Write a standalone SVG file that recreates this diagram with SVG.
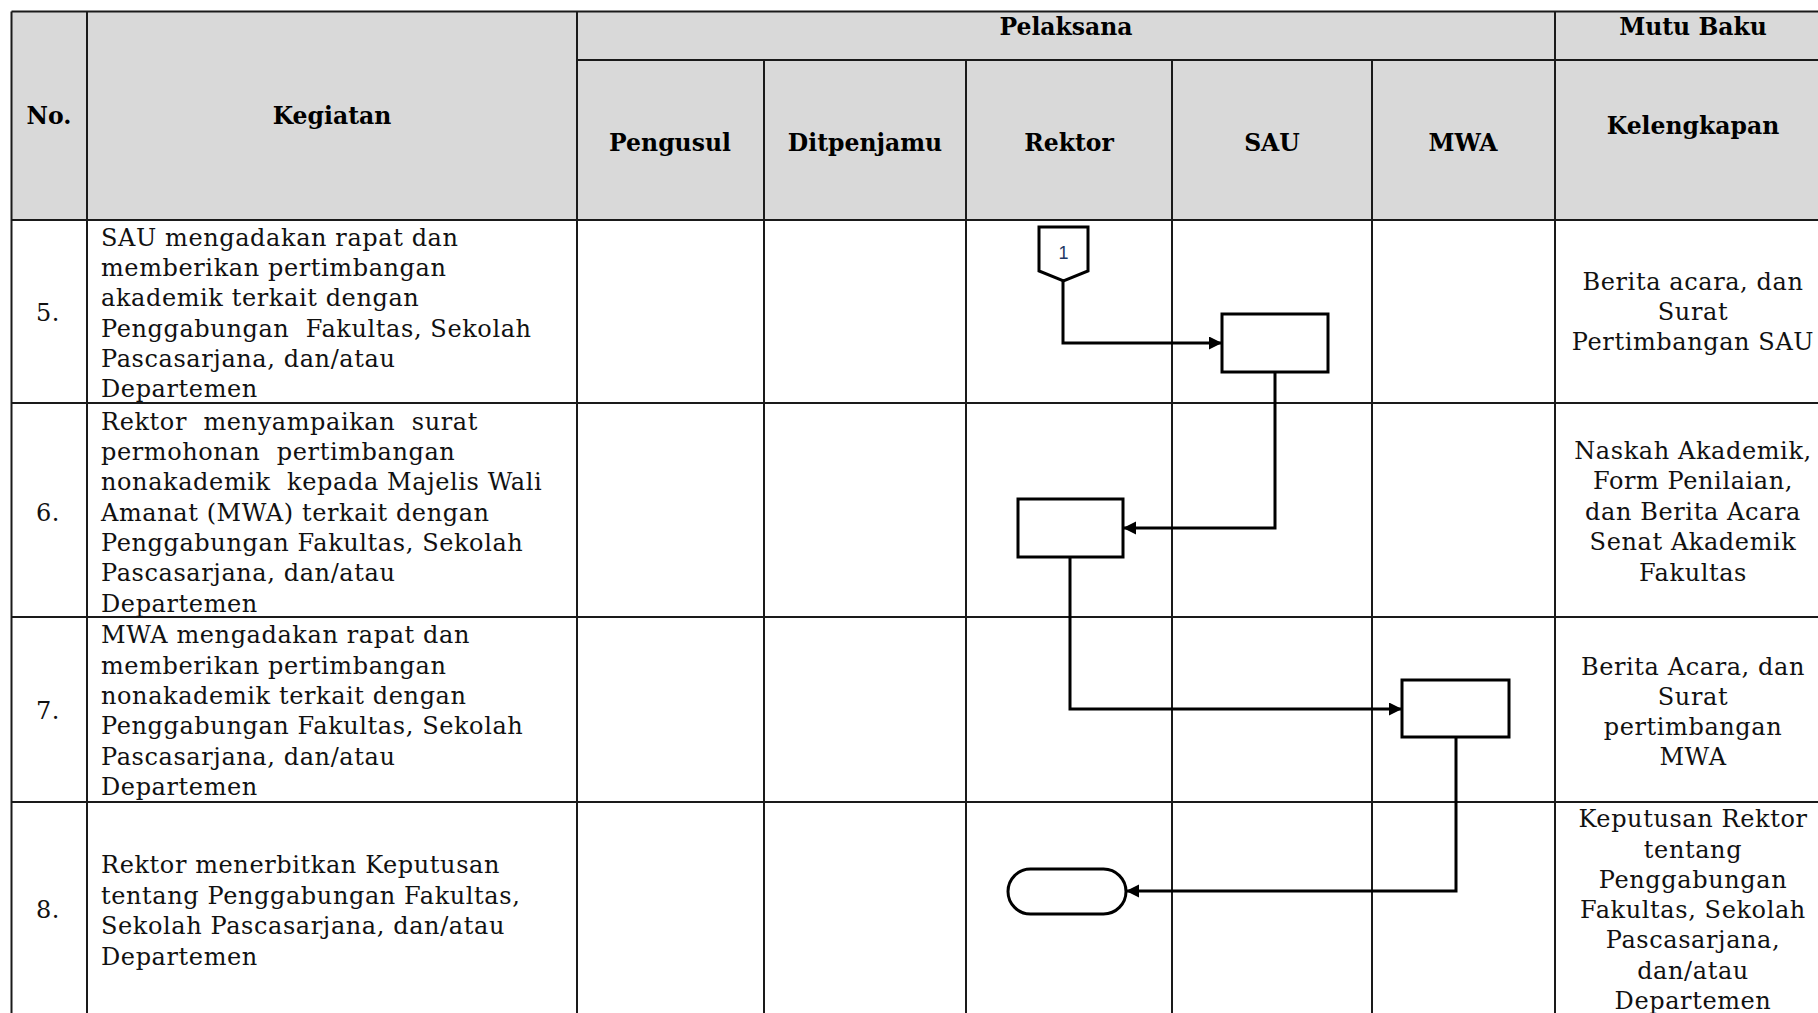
<svg xmlns="http://www.w3.org/2000/svg" width="1818" height="1013" viewBox="0 0 1818 1013">
<style>
.grid{stroke:#1a1a1a;stroke-width:2;fill:none}
.hd{font-family:"DejaVu Serif","Liberation Serif",serif;font-weight:bold;font-size:23.5px;fill:#000;text-anchor:middle}
.tx{font-family:"DejaVu Serif","Liberation Serif",serif;font-size:24px;fill:#111;letter-spacing:0.6px}
.ctr{text-anchor:middle}
.shape{fill:#fff;stroke:#000;stroke-width:3}
.conn{fill:none;stroke:#000;stroke-width:3}
</style>
<defs>
<marker id="arr" markerUnits="userSpaceOnUse" markerWidth="14" markerHeight="14" refX="13" refY="6.5" orient="auto">
<path d="M0,0 L13,6.5 L0,13 z" fill="#000"/>
</marker>
</defs>
<rect width="1818" height="1013" fill="#fff"/>
<g id="table">
<rect x="11.5" y="11.5" width="1820" height="208.5" fill="#d9d9d9"/>
<path class="grid" d="M11.5,11.5 H1818 M577,60 H1818 M11.5,220 H1818 M11.5,403 H1818 M11.5,617 H1818 M11.5,802 H1818"/>
<path class="grid" d="M11.5,11.5 V1013 M87,11.5 V1013 M577,11.5 V1013 M764,60 V1013 M966,60 V1013 M1172,60 V1013 M1372,60 V1013 M1555,11.5 V1013"/>
</g>
<g id="headers">
<text class="hd" x="49" y="124">No.</text>
<text class="hd" x="332" y="124">Kegiatan</text>
<text class="hd" x="1066" y="35">Pelaksana</text>
<text class="hd" x="1693" y="35">Mutu Baku</text>
<text class="hd" x="670" y="151">Pengusul</text>
<text class="hd" x="865" y="151">Ditpenjamu</text>
<text class="hd" x="1069" y="151">Rektor</text>
<text class="hd" x="1272" y="151">SAU</text>
<text class="hd" x="1463" y="151">MWA</text>
<text class="hd" x="1693" y="134">Kelengkapan</text>
</g>
<g id="row5">
<text class="tx ctr" x="48" y="321">5.</text>
<text class="tx" x="101" y="246" xml:space="preserve"><tspan x="101" y="246">SAU mengadakan rapat dan</tspan><tspan x="101" y="276">memberikan pertimbangan</tspan><tspan x="101" y="306">akademik terkait dengan</tspan><tspan x="101" y="337">Penggabungan  Fakultas, Sekolah</tspan><tspan x="101" y="367">Pascasarjana, dan/atau</tspan><tspan x="101" y="397">Departemen</tspan></text>
<text class="tx ctr" x="1693" y="290"><tspan x="1693" y="290">Berita acara, dan</tspan><tspan x="1693" y="320">Surat</tspan><tspan x="1693" y="350">Pertimbangan SAU</tspan></text>
</g>
<g id="row6">
<text class="tx ctr" x="48" y="521">6.</text>
<text class="tx" x="101" y="430" xml:space="preserve"><tspan x="101" y="430">Rektor  menyampaikan  surat</tspan><tspan x="101" y="460">permohonan  pertimbangan</tspan><tspan x="101" y="490">nonakademik  kepada Majelis Wali</tspan><tspan x="101" y="521">Amanat (MWA) terkait dengan</tspan><tspan x="101" y="551">Penggabungan Fakultas, Sekolah</tspan><tspan x="101" y="581">Pascasarjana, dan/atau</tspan><tspan x="101" y="612">Departemen</tspan></text>
<text class="tx ctr" x="1693" y="459"><tspan x="1693" y="459">Naskah Akademik,</tspan><tspan x="1693" y="489">Form Penilaian,</tspan><tspan x="1693" y="520">dan Berita Acara</tspan><tspan x="1693" y="550">Senat Akademik</tspan><tspan x="1693" y="581">Fakultas</tspan></text>
</g>
<g id="row7">
<text class="tx ctr" x="48" y="719">7.</text>
<text class="tx" x="101" y="643"><tspan x="101" y="643">MWA mengadakan rapat dan</tspan><tspan x="101" y="674">memberikan pertimbangan</tspan><tspan x="101" y="704">nonakademik terkait dengan</tspan><tspan x="101" y="734">Penggabungan Fakultas, Sekolah</tspan><tspan x="101" y="765">Pascasarjana, dan/atau</tspan><tspan x="101" y="795">Departemen</tspan></text>
<text class="tx ctr" x="1693" y="675"><tspan x="1693" y="675">Berita Acara, dan</tspan><tspan x="1693" y="705">Surat</tspan><tspan x="1693" y="735">pertimbangan</tspan><tspan x="1693" y="765">MWA</tspan></text>
</g>
<g id="row8">
<text class="tx ctr" x="48" y="918">8.</text>
<text class="tx" x="101" y="873"><tspan x="101" y="873">Rektor menerbitkan Keputusan</tspan><tspan x="101" y="904">tentang Penggabungan Fakultas,</tspan><tspan x="101" y="934">Sekolah Pascasarjana, dan/atau</tspan><tspan x="101" y="965">Departemen</tspan></text>
<text class="tx ctr" x="1693" y="827"><tspan x="1693" y="827">Keputusan Rektor</tspan><tspan x="1693" y="858">tentang</tspan><tspan x="1693" y="888">Penggabungan</tspan><tspan x="1693" y="918">Fakultas, Sekolah</tspan><tspan x="1693" y="948">Pascasarjana,</tspan><tspan x="1693" y="979">dan/atau</tspan><tspan x="1693" y="1009">Departemen</tspan></text>
</g>
<g id="connectors">
<path class="conn" d="M1063,281 V343 H1222" marker-end="url(#arr)"/>
<path class="conn" d="M1275,372 V528 H1123" marker-end="url(#arr)"/>
<path class="conn" d="M1070,557 V709 H1402" marker-end="url(#arr)"/>
<path class="conn" d="M1456,737 V891 H1126" marker-end="url(#arr)"/>
</g>
<g id="node-offpage1">
<polygon class="shape" points="1039,227 1088,227 1088,271 1063.5,281 1039,271"/>
<text x="1063.5" y="259" font-family="Liberation Sans, Arial, sans-serif" font-size="18" fill="#1f3864" text-anchor="middle">1</text>
</g>
<g id="node-sau"><rect class="shape" x="1222" y="314" width="106" height="58"/></g>
<g id="node-rektor6"><rect class="shape" x="1018" y="499" width="105" height="58"/></g>
<g id="node-mwa"><rect class="shape" x="1402" y="680" width="107" height="57"/></g>
<g id="node-end"><rect class="shape" x="1008" y="869" width="118" height="45" rx="22.5" ry="22.5"/></g>
</svg>
